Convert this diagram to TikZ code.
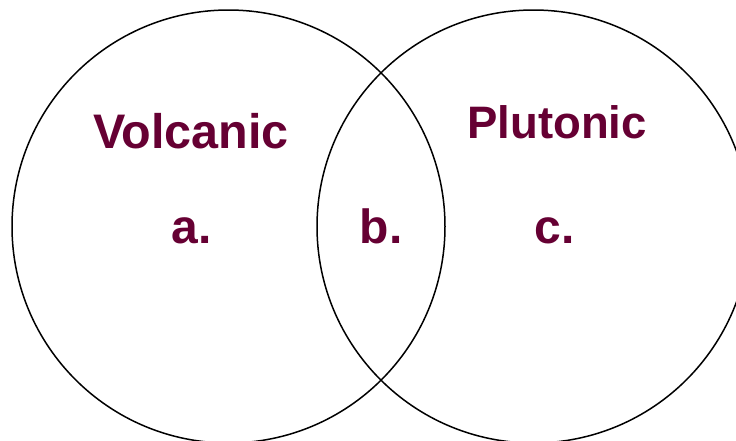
\documentclass[tikz,border=0pt]{standalone}
\usepackage{fontspec}
\setmainfont{Liberation Sans}
\definecolor{maroon}{RGB}{102,0,51}
\begin{document}
\begin{tikzpicture}[x=1pt,y=-1pt,
  ring/.style={draw=black,line width=1.5pt},
  lbl/.style={text=maroon,font=\fontsize{48.5}{56}\selectfont\bfseries,anchor=base,inner sep=0pt},
  letter/.style={text=maroon,font=\fontsize{48}{56}\selectfont\bfseries,anchor=base,inner sep=0pt}]
\useasboundingbox (0,0) rectangle (736,440);
\begin{scope}
\clip (0,0) rectangle (736,440);
\draw[ring] (228.5,226.5) circle (216.5);
\draw[ring] (533.5,226.5) circle (216.5);
\end{scope}
\node[lbl] (volc) at (191,148) {Volcanic};
\node[lbl,font=\fontsize{45.5}{54}\selectfont\bfseries] (plut) at (557,138) {Plutonic};
\node[letter] (a) at (192,243) {a.};
\node[letter] (b) at (381,243) {b.};
\node[letter] (c) at (555,243) {c.};
\end{tikzpicture}
\end{document}
